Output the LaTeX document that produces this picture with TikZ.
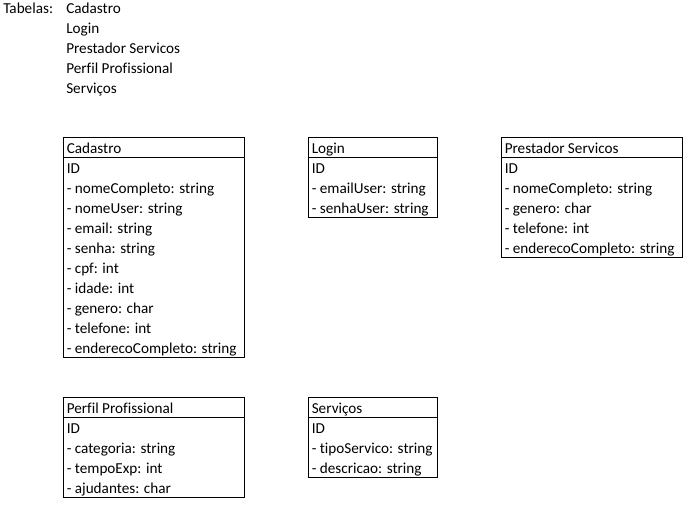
\documentclass[tikz,border=0pt]{standalone}
\usepackage{fontspec}
\setmainfont{Carlito}[Ligatures=NoCommon]
\tikzset{
  campo/.style={anchor=base west, inner sep=0pt, font=\fontsize{11.4}{13}\selectfont},
  tabela/.style={draw, line width=0.75pt},
}
\begin{document}
\begin{tikzpicture}[x=0.75pt, y=-0.75pt]
    \useasboundingbox (0,0) rectangle (699,508);
    % lista das tabelas
    \node[campo] (tabelas) at (3,13) {Tabelas:};
    \foreach \nome [count=\i] in {Cadastro, Login, Prestador Servicos, Perfil Profissional, Serviços}
        \node[campo] (lista\i) at (66,{13+20*(\i-1)}) {\nome};

    % Cadastro
    \draw[tabela] (63.5,137.5) rectangle (244,357.5);
    \draw[tabela] (63.5,157.5) -- (244,157.5);
    \node[campo] (cadastro) at (66.5,153) {Cadastro};
    \foreach \texto [count=\i] in {ID, - nomeCompleto: string, - nomeUser: string, - email: string, - senha: string, - cpf: int, - idade: int, - genero: char, - telefone: int, - enderecoCompleto: string}
        \node[campo] (cadastro\i) at (66.5,{153+20*\i}) {\texto};

    % Login
    \draw[tabela] (308.5,137.5) rectangle (437.5,217.5);
    \draw[tabela] (308.5,157.5) -- (437.5,157.5);
    \node[campo] (login) at (311.5,153) {Login};
    \foreach \texto [count=\i] in {ID, - emailUser: string, - senhaUser: string}
        \node[campo] (login\i) at (311.5,{153+20*\i}) {\texto};

    % Prestador Servicos
    \draw[tabela] (501.5,137.5) rectangle (682,257.5);
    \draw[tabela] (501.5,157.5) -- (682,157.5);
    \node[campo] (prestador) at (504.5,153) {Prestador Servicos};
    \foreach \texto [count=\i] in {ID, - nomeCompleto: string, - genero: char, - telefone: int, - enderecoCompleto: string}
        \node[campo] (prestador\i) at (504.5,{153+20*\i}) {\texto};

    % Perfil Profissional
    \draw[tabela] (63.5,397.5) rectangle (244,497.5);
    \draw[tabela] (63.5,417.5) -- (244,417.5);
    \node[campo] (perfil) at (66.5,413) {Perfil Profissional};
    \foreach \texto [count=\i] in {ID, - categoria: string, - tempoExp: int, - ajudantes: char}
        \node[campo] (perfil\i) at (66.5,{413+20*\i}) {\texto};

    % Servicos
    \draw[tabela] (308.5,397.5) rectangle (437.5,477.5);
    \draw[tabela] (308.5,417.5) -- (437.5,417.5);
    \node[campo] (servicos) at (311.5,413) {Serviços};
    \foreach \texto [count=\i] in {ID, - tipoServico: string, - descricao: string}
        \node[campo] (servicos\i) at (311.5,{413+20*\i}) {\texto};
\end{tikzpicture}
\end{document}
